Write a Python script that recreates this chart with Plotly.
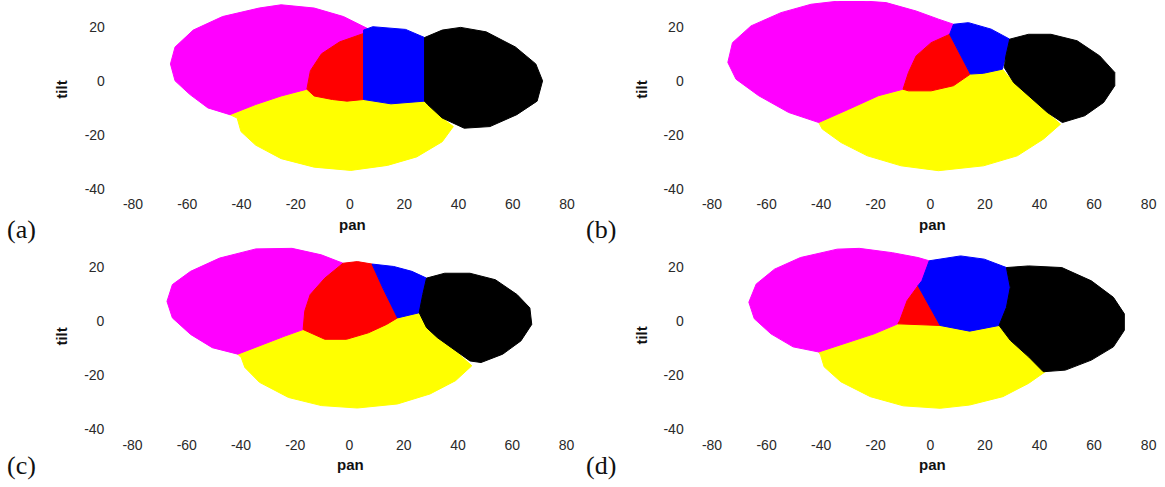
import plotly.graph_objects as go

# ---------------- data: region outlines (pan, tilt) ----------------
# Panel (a)
A_MAGENTA = [(-66.2, 6.25), (-64.5, 12.5), (-57.8, 18.75), (-47.0, 23.75), (-33.5, 26.9), (-25.4, 28.1),
             (-13.2, 26.9), (-2.4, 23.75), (6.3, 19.4), (5.0, 17.5), (-3.8, 14.4), (-10.5, 10.0),
             (-14.6, 3.75), (-15.9, -3.1), (-25.4, -5.6), (-34.8, -8.75), (-44.3, -12.5), (-52.4, -10.0),
             (-59.1, -5.0), (-64.5, 0.0)]
A_RED = [(5.0, 17.5), (5.0, -6.9), (-1.1, -7.5), (-6.5, -6.9), (-13.2, -5.6), (-15.9, -3.1), (-14.6, 3.75),
         (-10.5, 10.0), (-3.8, 14.4)]
A_BLUE = [(5.0, 18.75), (8.4, 20.0), (20.5, 19.0), (27.5, 16.0), (27.5, -7.5), (15.1, -8.5), (5.0, -6.9)]
A_BLACK = [(27.5, 16.0), (34.0, 18.75), (40.8, 19.75), (50.2, 18.1), (61.0, 12.5), (68.5, 6.25), (71.0, 0.0),
           (69.0, -7.5), (61.5, -12.5), (51.6, -16.9), (42.1, -17.5), (34.0, -13.75), (28.6, -8.75), (27.5, -7.5)]
A_YELLOW = [(-44.3, -12.5), (-34.8, -8.75), (-25.4, -5.6), (-15.9, -3.1), (-13.2, -5.6), (-6.5, -6.9),
            (-1.1, -7.5), (5.0, -6.9), (15.1, -8.5), (27.5, -7.5), (28.6, -8.75), (34.0, -13.75), (38.1, -16.9),
            (34.0, -22.5), (24.6, -28.1), (13.8, -31.25), (0.3, -33.1), (-13.2, -31.9), (-25.4, -28.75),
            (-34.8, -23.75), (-40.2, -18.75), (-41.6, -13.75)]

# Panel (b)
B_MAGENTA = [(-74.2, 6.8), (-72.5, 14.1), (-65.7, 20.3), (-54.7, 25.2), (-43.7, 28.3), (-29.9, 29.9),
             (-16.2, 28.9), (-5.2, 25.8), (3.0, 22.8), (8.5, 20.9), (7.1, 17.2), (0.3, 14.1), (-5.2, 9.2),
             (-8.0, 3.1), (-10.0, -3.1), (-19.0, -5.5), (-29.9, -10.5), (-40.9, -15.4), (-51.9, -11.7),
             (-62.9, -5.5), (-71.2, 0.6)]
B_RED = [(7.1, 17.2), (14.7, 2.5), (8.5, -1.8), (0.3, -3.7), (-8.0, -3.7), (-10.0, -3.1), (-8.0, 3.1),
         (-5.2, 9.2), (0.3, 14.1)]
B_BLUE = [(8.5, 20.9), (14.0, 21.5), (22.3, 19.1), (29.1, 15.4), (27.7, 9.2), (26.4, 4.3), (19.5, 2.8),
          (14.7, 2.5), (7.1, 17.2)]
B_BLACK = [(29.1, 15.4), (36.0, 17.2), (44.2, 17.2), (53.8, 14.8), (62.1, 9.2), (67.6, 3.1), (67.6, -1.8),
           (63.5, -8.0), (56.6, -12.9), (48.4, -15.4), (42.9, -11.7), (36.0, -5.5), (30.5, -0.6), (27.1, 4.9),
           (27.7, 9.2)]
B_YELLOW = [(-40.9, -15.4), (-29.9, -10.5), (-19.0, -5.5), (-10.0, -3.1), (-8.0, -3.7), (0.3, -3.7),
            (8.5, -1.8), (14.7, 2.5), (19.5, 2.8), (26.4, 4.3), (30.5, -0.6), (36.0, -5.5), (42.9, -11.7),
            (47.7, -16.0), (41.5, -21.5), (31.9, -27.7), (19.5, -31.4), (3.0, -33.2), (-10.7, -31.4),
            (-23.1, -27.7), (-32.7, -22.8), (-39.6, -17.8)]

# Panel (c)
C_MAGENTA = [(-67.3, 7.3), (-65.3, 13.5), (-58.6, 18.4), (-47.9, 23.3), (-34.5, 26.7), (-21.2, 26.9),
             (-10.4, 24.5), (-2.4, 21.4), (-9.1, 15.9), (-14.5, 9.8), (-16.5, 3.7), (-17.1, -3.1),
             (-23.8, -5.5), (-31.9, -8.6), (-41.2, -12.2), (-50.6, -9.8), (-58.6, -4.9), (-65.3, 1.2)]
C_RED = [(-2.4, 21.4), (2.9, 22.0), (8.3, 21.1), (12.3, 12.2), (17.7, 1.2), (13.7, -1.2), (7.0, -4.3),
         (-1.1, -6.7), (-9.1, -6.7), (-17.1, -3.1), (-16.5, 3.7), (-14.5, 9.8), (-9.1, 15.9)]
C_BLUE = [(8.3, 21.1), (16.3, 20.2), (23.0, 18.4), (28.4, 15.9), (27.0, 9.8), (25.7, 3.1), (17.7, 1.2),
          (12.3, 12.2)]
C_BLACK = [(28.4, 15.9), (35.1, 17.7), (44.4, 17.7), (53.8, 15.3), (61.8, 9.8), (66.5, 4.9), (67.2, -1.2),
           (63.2, -7.3), (56.5, -12.2), (48.5, -15.3), (44.4, -14.7), (39.1, -11.0), (32.4, -6.1),
           (28.4, -2.4), (25.7, 3.1), (27.0, 9.8)]
C_YELLOW = [(-41.2, -12.2), (-31.9, -8.6), (-23.8, -5.5), (-17.1, -3.1), (-9.1, -6.7), (-1.1, -6.7),
            (7.0, -4.3), (13.7, -1.2), (17.7, 1.2), (25.7, 3.1), (28.4, -2.4), (32.4, -6.1), (39.1, -11.0),
            (45.1, -16.5), (39.1, -22.0), (29.7, -26.9), (17.7, -30.6), (2.9, -32.1), (-10.4, -31.2),
            (-22.5, -28.2), (-33.2, -22.6), (-38.6, -17.1), (-39.9, -13.5)]

# Panel (d)
D_MAGENTA = [(-66.5, 7.0), (-63.8, 13.7), (-57.1, 19.2), (-47.6, 23.5), (-34.1, 26.6), (-26.0, 26.9),
             (-13.9, 25.3), (-4.5, 23.5), (-0.4, 22.3), (-3.1, 14.9), (-4.5, 13.1), (-8.5, 7.6),
             (-11.2, 0.2), (-11.9, -1.0), (-20.6, -4.7), (-31.4, -8.3), (-40.9, -11.4), (-50.3, -9.5),
             (-58.4, -4.7), (-64.5, 0.9)]
D_RED = [(-4.5, 13.1), (3.6, -1.6), (-11.9, -1.0), (-11.2, 0.2), (-8.5, 7.6)]
D_BLUE = [(-0.4, 22.3), (11.1, 24.1), (19.8, 22.9), (27.9, 19.8), (29.3, 12.5), (27.9, 5.1), (25.2, -1.6),
          (14.4, -3.7), (3.6, -1.6), (-4.5, 13.1), (-3.1, 14.9)]
D_BLACK = [(27.9, 19.8), (36.0, 20.4), (48.2, 19.8), (59.0, 14.9), (67.1, 8.8), (71.1, 2.7), (71.1, -3.4),
           (67.1, -9.5), (59.0, -14.4), (49.5, -18.1), (41.4, -18.7), (36.0, -13.2), (29.3, -7.1),
           (25.2, -1.6), (27.9, 5.1), (29.3, 12.5)]
D_YELLOW = [(-40.9, -11.4), (-31.4, -8.3), (-20.6, -4.7), (-11.9, -1.0), (3.6, -1.6), (14.4, -3.7),
            (25.2, -1.6), (29.3, -7.1), (36.0, -13.2), (42.1, -18.7), (36.0, -23.0), (26.6, -27.9),
            (14.4, -31.0), (3.6, -32.2), (-9.9, -31.3), (-22.0, -27.9), (-32.8, -22.4), (-38.9, -16.9),
            (-40.2, -12.6)]

PAN_TICKS = [-80, -60, -40, -20, 0, 20, 40, 60, 80]
PAN_TICK_TEXT = ["-80", "-60", "-40", "-20", "0", "20", "40", "60", "80"]
TILT_TICKS = [-40, -20, 0, 20]
TILT_TICK_TEXT = ["-40", "-20", "0", "20"]
PANEL_LABELS = ["(a)", "(b)", "(c)", "(d)"]
X_LABEL = "pan"
Y_LABEL = "tilt"

REGION_COLORS = {"yellow": "#ffff00", "magenta": "#ff00ff", "red": "#ff0000", "blue": "#0000ff", "black": "#000000"}

panels = [
    {"yellow": A_YELLOW, "magenta": A_MAGENTA, "red": A_RED, "blue": A_BLUE, "black": A_BLACK},
    {"yellow": B_YELLOW, "magenta": B_MAGENTA, "red": B_RED, "blue": B_BLUE, "black": B_BLACK},
    {"yellow": C_YELLOW, "magenta": C_MAGENTA, "red": C_RED, "blue": C_BLUE, "black": C_BLACK},
    {"yellow": D_YELLOW, "magenta": D_MAGENTA, "red": D_RED, "blue": D_BLUE, "black": D_BLACK},
]

W, H = 1165, 487


def py(p):
    return 1 - p / H


def px(p):
    return p / W


# axis layouts: (x domain px, x range, y domain px, y range)
axes_cfg = [
    ((105.9, 594.1), (-90, 90), (195.3, 1.0), (-42, 29.5)),
    ((684.7, 1165.0), (-90, 86), (195.3, 1.0), (-42, 29.5)),
    ((105.4, 593.6), (-90, 90), (436.6, 242.3), (-42, 29.5)),
    ((684.7, 1165.0), (-90, 86), (436.6, 242.3), (-42, 29.5)),
]

fig = go.Figure()
tick_font = dict(family="Liberation Sans, Arial, sans-serif", size=14, color="#2a2a2a")

for i, regions in enumerate(panels):
    xa = "x" if i == 0 else f"x{i+1}"
    ya = "y" if i == 0 else f"y{i+1}"
    for name in ["yellow", "magenta", "red", "blue", "black"]:
        pts = regions[name]
        xs = [p[0] for p in pts] + [pts[0][0]]
        ys = [p[1] for p in pts] + [pts[0][1]]
        fig.add_trace(go.Scatter(x=xs, y=ys, mode="lines", fill="toself",
                                 fillcolor=REGION_COLORS[name],
                                 line=dict(color=REGION_COLORS[name], width=1),
                                 xaxis=xa, yaxis=ya, showlegend=False, hoverinfo="skip"))
    (x0, x1), xr, (y0, y1), yr = axes_cfg[i]
    xkey = "xaxis" if i == 0 else f"xaxis{i+1}"
    ykey = "yaxis" if i == 0 else f"yaxis{i+1}"
    fig.update_layout(**{
        xkey: dict(domain=[px(x0), px(x1)], range=list(xr), tickvals=PAN_TICKS, ticktext=PAN_TICK_TEXT,
                   showgrid=False, zeroline=False, showline=False, ticks="",
                   tickfont=tick_font, anchor=ya, fixedrange=True),
        ykey: dict(domain=[py(y0), py(y1)], range=list(yr), tickvals=TILT_TICKS, ticktext=TILT_TICK_TEXT,
                   showgrid=False, zeroline=False, showline=False, ticks="",
                   tickfont=tick_font, anchor=xa, fixedrange=True),
    })

label_font = dict(family="Liberation Sans, Arial, sans-serif", size=15, color="#111")
annots = []
pan_pos = [(352, 225), (932, 225), (350, 466), (932, 466)]
tilt_pos = [(62, 90), (642, 90), (62, 338), (642, 337)]
lab_pos = [(21, 230), (601, 230), (21, 467), (601, 467)]
for i in range(4):
    annots.append(dict(x=px(pan_pos[i][0]), y=py(pan_pos[i][1]), xref="paper", yref="paper",
                       text=f"<b>{X_LABEL}</b>", showarrow=False, font=label_font,
                       xanchor="center", yanchor="middle"))
    annots.append(dict(x=px(tilt_pos[i][0]), y=py(tilt_pos[i][1]), xref="paper", yref="paper",
                       text=f"<b>{Y_LABEL}</b>", showarrow=False, font=label_font, textangle=-90,
                       xanchor="center", yanchor="middle"))
    annots.append(dict(x=px(lab_pos[i][0]), y=py(lab_pos[i][1]), xref="paper", yref="paper",
                       text=PANEL_LABELS[i], showarrow=False,
                       font=dict(family="Liberation Serif, DejaVu Serif, serif", size=26, color="#111"),
                       xanchor="center", yanchor="middle"))

fig.update_layout(width=W, height=H, margin=dict(l=0, r=0, t=0, b=0),
                  paper_bgcolor="white", plot_bgcolor="white", annotations=annots,
                  showlegend=False)

fig.write_html("out.html", config={"displayModeBar": False, "staticPlot": True},
               post_script="document.body.style.margin='0';document.body.style.padding='0';")
